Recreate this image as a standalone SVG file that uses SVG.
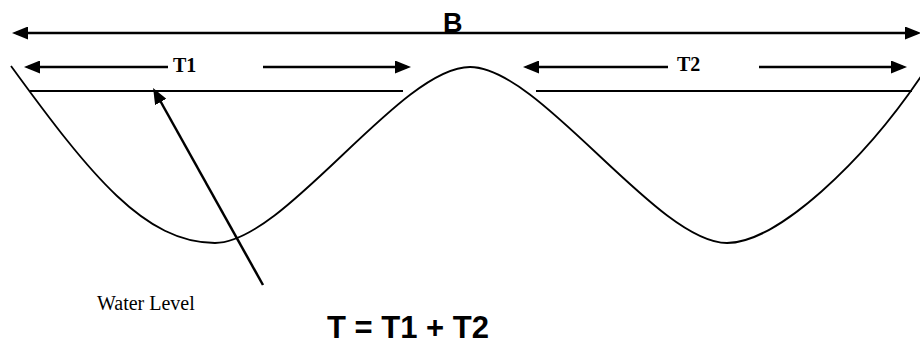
<svg xmlns="http://www.w3.org/2000/svg" width="920" height="345" viewBox="0 0 920 345">
<style>
.arr{stroke:#000;stroke-width:2.5;fill:none}
.lvl{stroke:#000;stroke-width:2;fill:none}
.curve{stroke:#000;stroke-width:1.8;fill:none}
.lbl{font-family:"Liberation Serif","Times New Roman",serif;font-weight:bold;font-size:20px;fill:#000}
.big{font-family:"Liberation Sans",Arial,sans-serif;font-weight:bold;fill:#000}
.wl{font-family:"Liberation Serif","Times New Roman",serif;font-size:20px;fill:#000}
</style>
<defs>
<marker id="ah" markerUnits="userSpaceOnUse" markerWidth="16" markerHeight="13" refX="12" refY="6.5" orient="auto-start-reverse">
<path d="M0,0 L16,6.5 L0,13 z" fill="#000"/>
</marker>
</defs>
<rect width="920" height="345" fill="#fff"/>
<g id="bed">
<path class="curve" d="M11,66 C91,176 145,243 215,243 C285,243 400,67 470,67 C540,67 657,243 727,243 C777,243 864,162 924,72"/>
</g>
<g id="water-level-lines">
<line class="lvl" x1="30" y1="91" x2="403" y2="91"/>
<line class="lvl" x1="536" y1="91" x2="912" y2="91"/>
</g>
<g id="label-B"><text class="big" x="443" y="32" font-size="27">B</text></g>
<g id="label-T1"><text class="lbl" x="173" y="72">T1</text></g>
<g id="label-T2"><text class="lbl" x="677" y="71">T2</text></g>
<g id="label-water"><text class="wl" x="97" y="310">Water Level</text></g>
<g id="formula"><text class="big" x="327" y="338" font-size="31">T = T1 + T2</text></g>
<g id="connectors">
<line class="arr" x1="16" y1="33" x2="917" y2="33" marker-start="url(#ah)" marker-end="url(#ah)"/>
<line class="arr" x1="28" y1="67" x2="168" y2="67" marker-start="url(#ah)"/>
<line class="arr" x1="263" y1="67" x2="407" y2="67" marker-end="url(#ah)"/>
<line class="arr" x1="527" y1="67" x2="668" y2="67" marker-start="url(#ah)"/>
<line class="arr" x1="759" y1="67" x2="903" y2="67" marker-end="url(#ah)"/>
<line class="arr" x1="263" y1="285" x2="155" y2="91.5" marker-end="url(#ah)"/>
</g>
</svg>
